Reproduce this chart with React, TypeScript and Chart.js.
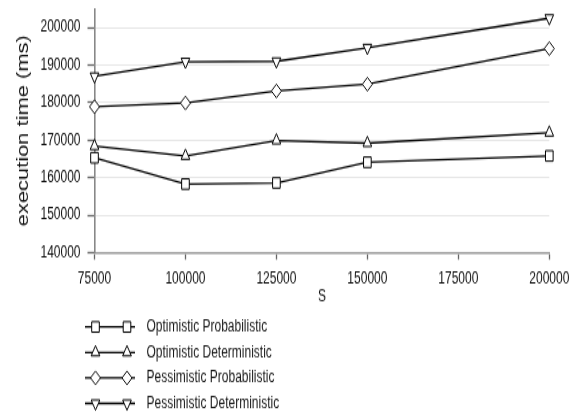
import React, { useEffect, useRef } from "react";
import { Chart, registerables } from "chart.js";

Chart.register(...registerables);

const sValues = [75000, 100000, 125000, 150000, 200000];
const optimisticProbabilistic = [165300, 158300, 158600, 164100, 165800];
const optimisticDeterministic = [168400, 165800, 169900, 169200, 172000];
const pessimisticProbabilistic = [178900, 179900, 183100, 184900, 194400];
const pessimisticDeterministic = [187000, 190900, 191000, 194600, 202500];
const seriesLabels = [
  "Optimistic Probabilistic",
  "Optimistic Deterministic",
  "Pessimistic Probabilistic",
  "Pessimistic Deterministic",
];
const yTicks = [140000, 150000, 160000, 170000, 180000, 190000, 200000];
const xTicks = [75000, 100000, 125000, 150000, 175000, 200000];
const yAxisMax = 205000;

const FONT = "'Liberation Sans', Arial, Helvetica, sans-serif";
const CANVAS_W = 583;
const CANVAS_H = 303; // drawn squashed, then stretched to 415 via CSS like the reference

type Shape = "square" | "up" | "diamond" | "down";
const shapes: Shape[] = ["square", "up", "diamond", "down"];

function drawMarker(ctx: CanvasRenderingContext2D, shape: Shape, x: number, y: number) {
  ctx.beginPath();
  if (shape === "square") {
    const h = 3.8;
    ctx.rect(x - h, y - h, 2 * h, 2 * h);
  } else if (shape === "diamond") {
    const r = 5;
    ctx.moveTo(x - r, y);
    ctx.lineTo(x, y - r);
    ctx.lineTo(x + r, y);
    ctx.lineTo(x, y + r);
    ctx.closePath();
  } else {
    const r = 5;
    const dir = shape === "up" ? 1 : -1;
    ctx.moveTo(x, y - dir * r);
    ctx.lineTo(x + r * 0.866, y + dir * r * 0.5);
    ctx.lineTo(x - r * 0.866, y + dir * r * 0.5);
    ctx.closePath();
  }
  ctx.fillStyle = "#fff";
  ctx.fill();
  ctx.lineWidth = 1;
  ctx.strokeStyle = "#000";
  ctx.stroke();
}

const legendPlugin = {
  id: "sampleLegend",
  afterDraw(chart: any) {
    const ctx: CanvasRenderingContext2D = chart.ctx;
    ctx.save();
    chart.data.datasets.forEach((ds: any, i: number) => {
      const y = 238.7 + i * 18.6;
      ctx.beginPath();
      ctx.moveTo(85, y);
      ctx.lineTo(135, y);
      ctx.lineWidth = 1.3;
      ctx.strokeStyle = "#000";
      ctx.stroke();
      drawMarker(ctx, shapes[i], 95.5, y);
      drawMarker(ctx, shapes[i], 127, y);
      ctx.fillStyle = "#1a1a1a";
      ctx.font = `12px ${FONT}`;
      ctx.textAlign = "left";
      ctx.textBaseline = "middle";
      ctx.fillText(ds.label, 146.5, y);
    });
    ctx.restore();
  },
};

export default function App() {
  const ref = useRef<HTMLCanvasElement | null>(null);

  useEffect(() => {
    document.body.style.margin = "0";
    if (!ref.current) return;
    const series = [
      optimisticProbabilistic,
      optimisticDeterministic,
      pessimisticProbabilistic,
      pessimisticDeterministic,
    ];
    const styles = [
      { pointStyle: "rect", pointRadius: 5.4, pointRotation: 0 },
      { pointStyle: "triangle", pointRadius: 5, pointRotation: 0 },
      { pointStyle: "rectRot", pointRadius: 5, pointRotation: 0 },
      { pointStyle: "triangle", pointRadius: 5, pointRotation: 180 },
    ];
    const chart = new Chart(ref.current, {
      type: "line",
      data: {
        datasets: series.map((vals, i) => ({
          label: seriesLabels[i],
          data: vals.map((v, j) => ({ x: sValues[j], y: v })),
          borderColor: "#000",
          borderWidth: 1.3,
          backgroundColor: "#fff",
          pointBackgroundColor: "#fff",
          pointBorderColor: "#000",
          pointBorderWidth: 1,
          ...styles[i],
          fill: false,
          tension: 0,
          clip: false,
        })) as any,
      },
      plugins: [legendPlugin],
      options: {
        responsive: false,
        animation: false,
        devicePixelRatio: 1,
        layout: { padding: { left: 0, top: 2.4, right: 33.7, bottom: 78.8 } },
        plugins: { legend: { display: false }, tooltip: { enabled: false } },
        scales: {
          x: {
            type: "linear",
            min: xTicks[0],
            max: xTicks[xTicks.length - 1],
            afterBuildTicks: (scale: any) => {
              scale.ticks = xTicks.map((v) => ({ value: v }));
            },
            ticks: {
              autoSkip: false,
              callback: (v: any) => String(v),
              font: { family: FONT, size: 12 },
              color: "#111",
              padding: 6.5,
              maxRotation: 0,
            },
            grid: {
              drawOnChartArea: false,
              drawTicks: true,
              tickLength: 5,
              tickColor: "#666",
              tickWidth: 1.3,
            },
            border: { display: true, color: "#999", width: 1.6 },
            title: {
              display: true,
              text: "S",
              font: { family: FONT, size: 12 },
              color: "#111",
              padding: { top: 0, bottom: 0 },
            },
            afterFit: (scale: any) => {
              scale.height = 39.7;
              scale.paddingLeft = 0;
              scale.paddingRight = 0;
            },
          },
          y: {
            type: "linear",
            min: yTicks[0],
            max: yAxisMax,
            afterBuildTicks: (scale: any) => {
              scale.ticks = yTicks.map((v) => ({ value: v }));
            },
            ticks: {
              autoSkip: false,
              callback: (v: any) => String(v),
              font: { family: FONT, size: 12 },
              color: "#111",
              padding: 7,
            },
            grid: {
              color: "#e6e6e6",
              lineWidth: 1,
              drawTicks: true,
              tickLength: 7,
              tickColor: "#666",
              tickWidth: 1.3,
            },
            border: { display: true, color: "#888", width: 1.6 },
            title: {
              display: true,
              text: "execution time (ms)",
              font: { family: FONT, size: 16 },
              color: "#111",
              padding: { top: 14, bottom: 0 },
            },
            afterFit: (scale: any) => {
              scale.width = 94.5;
              scale.paddingTop = 0;
              scale.paddingBottom = 0;
            },
          },
        },
      } as any,
    });
    return () => chart.destroy();
  }, []);

  return (
    <canvas
      ref={ref}
      width={CANVAS_W}
      height={CANVAS_H}
      style={{ width: "583px", height: "415px", display: "block" }}
    />
  );
}
